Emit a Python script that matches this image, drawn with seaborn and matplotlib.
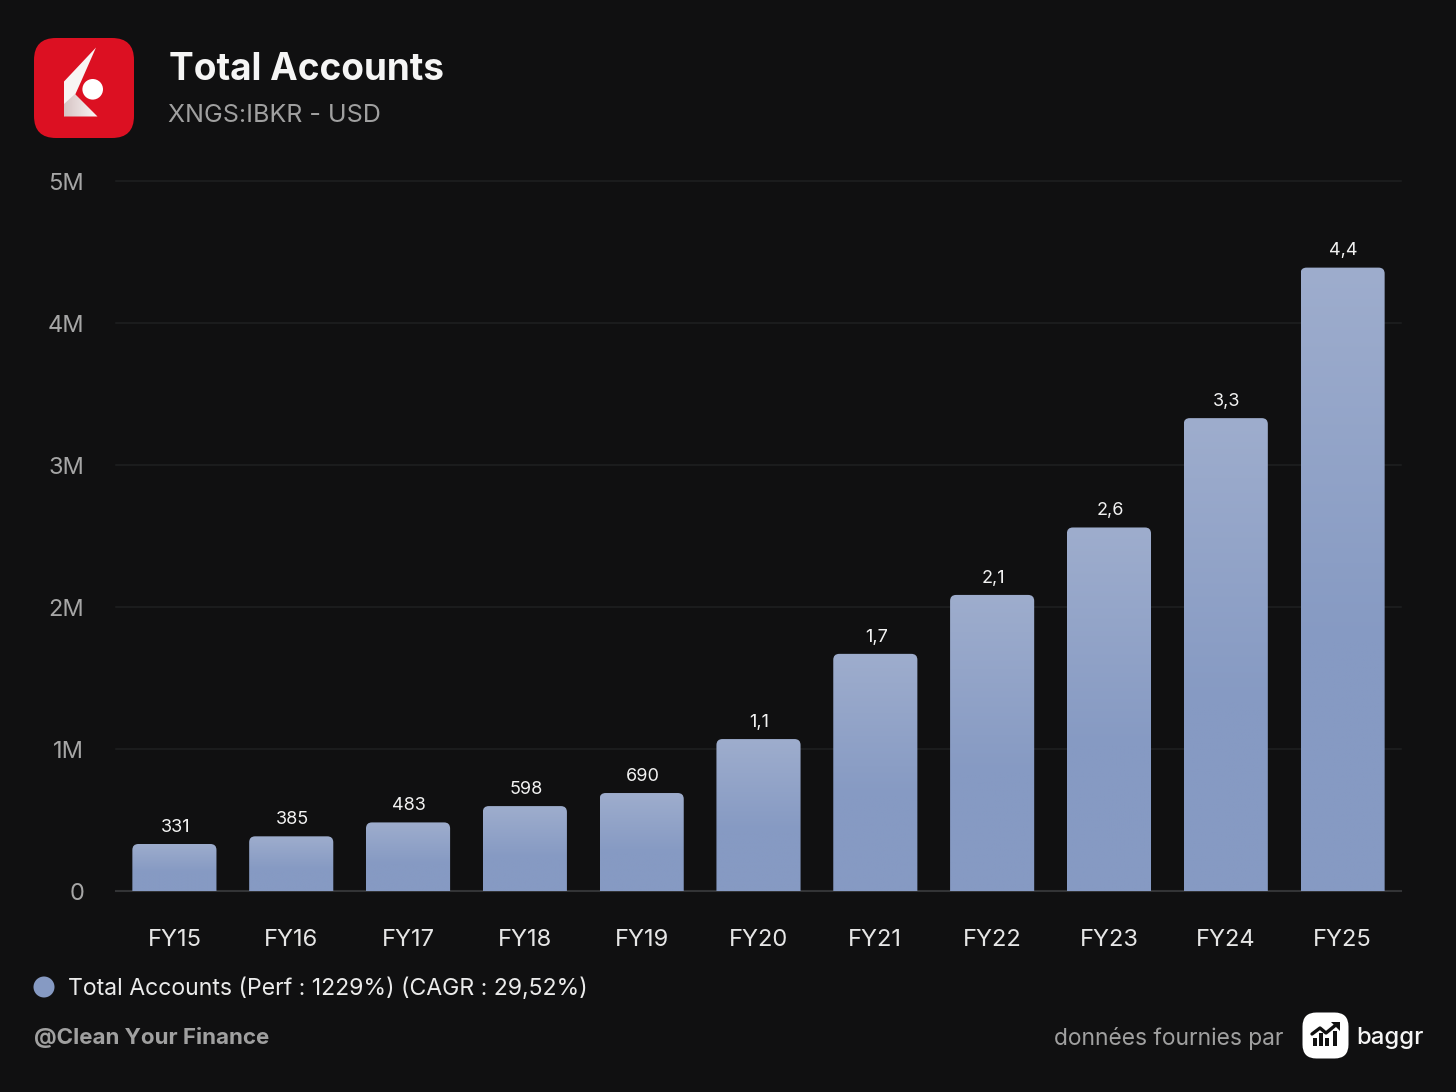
"""Total Accounts IBKR - barres avec degrade sur fond sombre."""
import numpy as np
import pandas as pd
import seaborn as sns
import matplotlib.pyplot as plt
from matplotlib.colors import LinearSegmentedColormap
from matplotlib.patches import Circle, FancyBboxPatch, Polygon

years = ["FY15", "FY16", "FY17", "FY18", "FY19", "FY20", "FY21", "FY22", "FY23", "FY24", "FY25"]
accounts = [0.331, 0.385, 0.483, 0.598, 0.690, 1.07, 1.67, 2.085, 2.56, 3.33, 4.39]
bar_labels = ["331", "385", "483", "598", "690", "1,1", "1,7", "2,1", "2,6", "3,3", "4,4"]
y_ticks = [0, 1, 2, 3, 4, 5]
y_tick_labels = ["0", "1M", "2M", "3M", "4M", "5M"]

BG = "#101011"
BAR = "#869ac3"
BAR_TOP = "#9eadcd"
W, H = 1456, 1092

sns.set_theme(style="dark")
plt.rcParams["font.family"] = ["Inter", "DejaVu Sans"]

df = pd.DataFrame({"year": years, "accounts": accounts})

fig = plt.figure(figsize=(W / 100, H / 100), dpi=100, facecolor=BG)
ax = fig.add_axes([116 / W, 1 - 891 / H, (1401 - 116) / W, (891 - 181) / H], facecolor=BG)
sns.barplot(data=df, x="year", y="accounts", width=0.72, color=BAR, saturation=1, ax=ax, zorder=3)

ax.set_xlim(-0.5, len(years) - 0.5)
ax.set_ylim(0, 5)
ax.set_xlabel("")
ax.set_ylabel("")
ax.set_yticks(y_ticks, y_tick_labels)
ax.tick_params(axis="y", length=0, pad=23, labelsize=17, labelcolor="#a6a6a6")
ax.tick_params(axis="x", length=0, pad=27, labelsize=17, labelcolor="#e6e6e6")
for s in ax.spines.values():
    s.set_visible(False)
ax.spines["bottom"].set_visible(True)
ax.spines["bottom"].set_color("#333436")
ax.spines["bottom"].set_linewidth(1.5)
ax.grid(axis="y", color="#1b1c1d", linewidth=1.5, zorder=0)
ax.grid(axis="x", visible=False)
for line in ax.get_ygridlines():
    line.set_clip_on(False)

# degrade : clair en haut, couleur pleine vers le bas de la barre
cmap = LinearSegmentedColormap.from_list("bar", [(0, BAR), (0.4, BAR), (1, BAR_TOP)])
grad = np.linspace(0, 1, 256).reshape(-1, 1)
for bar, label in zip(list(ax.patches), bar_labels):
    x0, w, h = bar.get_x(), bar.get_width(), bar.get_height()
    bar.set_visible(False)
    # arrondi defini en pixels, transforme via une boite en coordonnees pixels
    p0 = ax.transData.transform((x0, 0))
    p1 = ax.transData.transform((x0 + w, h))
    box = FancyBboxPatch((p0[0] + 6, p0[1] - 8), p1[0] - p0[0] - 12, p1[1] - p0[1] + 2,
                         boxstyle="round,pad=6,rounding_size=6", transform=None,
                         facecolor="none", edgecolor="none")
    ax.add_patch(box)
    im = ax.imshow(grad, extent=(x0, x0 + w, 0, h), origin="lower", cmap=cmap,
                   aspect="auto", zorder=3, interpolation="bilinear")
    im.set_clip_path(box)
    ax.annotate(label, (x0 + w / 2, h), xytext=(0.7, 6), textcoords="offset points",
                ha="center", va="bottom", fontsize=13, color="#f2f2f2", zorder=4)
ax.set_xlim(-0.5, len(years) - 0.5)
ax.set_ylim(0, 5)

# calque en pixels pour l'en-tete, la legende et les logos
ov = fig.add_axes([0, 0, 1, 1], facecolor="none", zorder=5)

ov.text(169, 70, "Total Accounts", fontsize=26.6, fontweight="bold", color="#f5f5f5", va="center")
ov.text(168.5, 115, "XNGS:IBKR - USD", fontsize=18, color="#a0a0a0", va="center")

# logo IBKR
ov.add_patch(FancyBboxPatch((34 + 22, 38 + 22), 56, 56, boxstyle="round,pad=22,rounding_size=22",
                            facecolor="#dc1022", edgecolor="none"))
ov.add_patch(Polygon([(96, 47.5), (64, 81.5), (64, 116.5), (75, 95), (81.5, 80.5)],
                     facecolor="#f8f4f4", edgecolor="none"))
shade = Polygon([(64, 116.5), (97.5, 116.5), (75, 94), (64, 104)], facecolor="none", edgecolor="none")
ov.add_patch(shade)
shade_cmap = LinearSegmentedColormap.from_list("shade", ["#d6c4c4", "#fbf7f7"])
shade_im = ov.imshow(np.linspace(0, 1, 64).reshape(1, -1), extent=(64, 98, 117, 94), cmap=shade_cmap,
                     aspect="auto", interpolation="bilinear", zorder=2)
shade_im.set_clip_path(shade)
ov.add_patch(Circle((92.7, 89.3), 10.3, facecolor="white", edgecolor="none", zorder=3))

# legende et pied de page
ov.add_patch(Circle((44, 987), 10.5, facecolor=BAR, edgecolor="none"))
ov.text(68, 989, "Total Accounts (Perf : 1229%) (CAGR : 29,52%)", fontsize=16.6, color="#ebebeb", va="center")
ov.text(34, 1038, "@Clean Your Finance", fontsize=16.1, fontweight="bold", color="#a0a0a0", va="center")
ov.text(1284, 1038, "données fournies par", fontsize=16.4, color="#a0a0a0", va="center", ha="right")

# logo baggr
ov.add_patch(FancyBboxPatch((1302.5 + 14, 1012.5 + 14), 18, 18, boxstyle="round,pad=14,rounding_size=14",
                            facecolor="white", edgecolor="none"))
for bx, by in zip([1313, 1319, 1325, 1333], [1037.5, 1033, 1037.5, 1031]):
    ov.add_patch(FancyBboxPatch((bx, by), 3.5, 1046 - by, boxstyle="square,pad=0", facecolor="#111111", edgecolor="none"))
ov.plot([1312, 1320, 1326, 1337], [1034, 1028, 1033, 1024], color="#111111", lw=2.4)
ov.add_patch(Polygon([(1331, 1022), (1340, 1022), (1340, 1031)], facecolor="#111111", edgecolor="none"))
ov.text(1356, 1038, "baggr", fontsize=17.2, fontweight="medium", color="#f5f5f5", va="center")

ov.set_xlim(0, W)
ov.set_ylim(H, 0)
ov.axis("off")

fig.savefig("out.png", dpi=100, facecolor=BG)
